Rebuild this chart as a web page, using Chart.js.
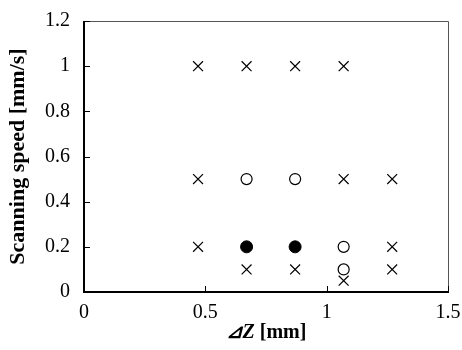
<!DOCTYPE html>
<html>
<head>
<meta charset="utf-8">
<script src="https://cdn.jsdelivr.net/npm/chart.js@4"></script>
<style>
  html, body { margin: 0; padding: 0; background: #fff; }
  #wrap { width: 462px; height: 350px; }
</style>
</head>
<body>
<div id="wrap"><canvas id="scanChart" width="462" height="350"></canvas></div>
<script>
// points: dZ [mm] vs scanning speed [mm/s]
const crossX = [0.47, 0.67, 0.87, 1.07, 0.47, 1.07, 1.27, 0.47, 1.27, 0.67, 0.87, 1.27, 1.07];
const crossY = [1.0, 1.0, 1.0, 1.0, 0.5, 0.5, 0.5, 0.2, 0.2, 0.1, 0.1, 0.1, 0.05];
const openX = [0.67, 0.87, 1.07, 1.07];
const openY = [0.5, 0.5, 0.2, 0.1];
const filledX = [0.67, 0.87];
const filledY = [0.2, 0.2];

const xTicks = [0, 0.5, 1, 1.5];
const yTicks = [0, 0.2, 0.4, 0.6, 0.8, 1, 1.2];

const serif = "'Liberation Serif', 'Times New Roman', serif";

function toPoints(xs, ys) {
    return xs.map((x, i) => ({ x: x, y: ys[i] }));
}

// frame + inward tick marks + axis titles
const framePlugin = {
    id: 'frame',
    afterDraw(chart) {
        const ctx = chart.ctx;
        const a = chart.chartArea;
        const xs = chart.scales.x, ys = chart.scales.y;
        ctx.save();
        // thin top/right border
        ctx.strokeStyle = '#555';
        ctx.lineWidth = 1;
        ctx.beginPath();
        ctx.moveTo(a.left, a.top + 0.5);
        ctx.lineTo(a.right + 0.5, a.top + 0.5);
        ctx.lineTo(a.right + 0.5, a.bottom);
        ctx.stroke();
        // heavier left/bottom axes
        ctx.strokeStyle = '#000';
        ctx.lineWidth = 2;
        ctx.beginPath();
        ctx.moveTo(a.left, a.top);
        ctx.lineTo(a.left, a.bottom);
        ctx.lineTo(a.right + 1, a.bottom);
        ctx.stroke();
        // ticks pointing into the plot
        ctx.lineWidth = 1;
        ctx.beginPath();
        yTicks.forEach(v => {
            const py = Math.round(ys.getPixelForValue(v)) + 0.5;
            ctx.moveTo(a.left, py);
            ctx.lineTo(a.left + 6, py);
        });
        xTicks.forEach(v => {
            const px = Math.round(xs.getPixelForValue(v)) + 0.5;
            ctx.moveTo(px, a.bottom);
            ctx.lineTo(px, a.bottom - 6);
        });
        ctx.stroke();

        ctx.fillStyle = '#000';
        ctx.textBaseline = 'middle';

        // y title, rotated
        ctx.save();
        ctx.translate(18, (a.top + a.bottom) / 2);
        ctx.rotate(-Math.PI / 2);
        ctx.textAlign = 'center';
        ctx.font = 'bold 22px ' + serif;
        ctx.fillText('Scanning speed [mm/s]', 0, 0);
        ctx.restore();

        // x title: italic "⊿Z" then " [mm]"
        const partA = '\u22BFZ', partB = ' [mm]';
        ctx.textAlign = 'left';
        ctx.font = 'italic bold 20px ' + serif;
        const wA = ctx.measureText(partA).width;
        ctx.font = 'bold 20px ' + serif;
        const wB = ctx.measureText(partB).width;
        const sx = (a.left + a.right) / 2 - (wA + wB) / 2;
        const ty = 333;
        ctx.font = 'italic bold 20px ' + serif;
        ctx.fillText(partA, sx, ty);
        ctx.font = 'bold 20px ' + serif;
        ctx.fillText(partB, sx + wA, ty);
        ctx.restore();
    }
};

const ctx = document.getElementById('scanChart').getContext('2d');
const scanChart = new Chart(ctx, {
    type: 'scatter',
    data: {
        datasets: [
            {
                label: 'cross',
                data: toPoints(crossX, crossY),
                pointStyle: 'crossRot',
                pointRadius: 7,
                borderColor: '#000',
                borderWidth: 1.2,
                backgroundColor: '#000'
            },
            {
                label: 'open',
                data: toPoints(openX, openY),
                pointStyle: 'circle',
                pointRadius: 5.5,
                borderColor: '#000',
                borderWidth: 1.2,
                backgroundColor: '#fff'
            },
            {
                label: 'filled',
                data: toPoints(filledX, filledY),
                pointStyle: 'circle',
                pointRadius: 6,
                borderColor: '#000',
                borderWidth: 1,
                backgroundColor: '#000'
            }
        ]
    },
    options: {
        responsive: false,
        animation: false,
        layout: { padding: { top: 21, right: 14, left: 0, bottom: 0 } },
        plugins: {
            legend: { display: false },
            tooltip: { enabled: false }
        },
        scales: {
            x: {
                type: 'linear',
                min: 0,
                max: 1.5,
                afterBuildTicks: s => { s.ticks = xTicks.map(v => ({ value: v })); },
                afterFit: s => { s.height = 58; s.paddingLeft = 0; s.paddingRight = 0; },
                grid: { display: false, drawTicks: false },
                border: { display: false },
                ticks: {
                    padding: 9,
                    color: '#000',
                    font: { family: serif, size: 20 },
                    maxRotation: 0,
                    callback: v => String(v)
                }
            },
            y: {
                type: 'linear',
                min: 0,
                max: 1.2,
                afterBuildTicks: s => { s.ticks = yTicks.map(v => ({ value: v })); },
                afterFit: s => { s.width = 84; s.paddingTop = 0; s.paddingBottom = 0; },
                grid: { display: false, drawTicks: false },
                border: { display: false },
                ticks: {
                    padding: 14,
                    color: '#000',
                    font: { family: serif, size: 20 },
                    callback: v => String(v)
                }
            }
        }
    },
    plugins: [framePlugin]
});
</script>
</body>
</html>
